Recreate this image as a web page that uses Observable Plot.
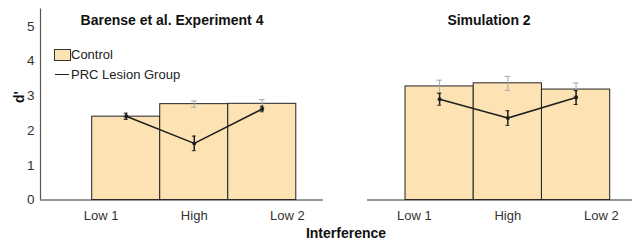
<!DOCTYPE html>
<html>
<head>
<meta charset="utf-8">
<script src="https://cdn.jsdelivr.net/npm/d3@7"></script>
<script src="https://cdn.jsdelivr.net/npm/@observablehq/plot@0.6"></script>
<style>
  html, body { margin: 0; padding: 0; background: #fff; }
  #wrap { position: relative; width: 632px; height: 241px; overflow: hidden; font-family: "Liberation Sans", Arial, sans-serif; color: #222; }
  #wrap svg { position: absolute; top: 0; }
  .ttl { position: absolute; font-weight: bold; font-size: 14px; transform: translate(-50%, -50%); white-space: nowrap; color: #111; }
  .ylab { position: absolute; font-weight: bold; font-size: 14px; transform: translate(-50%, -50%) rotate(-90deg); white-space: nowrap; color: #111; }
  .leg { position: absolute; font-size: 13px; white-space: nowrap; color: #222; }
</style>
</head>
<body>
<div id="wrap"></div>
<script>
// ---- data ----
const categories = ["Low 1", "High", "Low 2"];
const yTicks = [0, 1, 2, 3, 4, 5];

const barenseControl   = [2.40, 2.76, 2.77];
const barenseControlSE = [0.04, 0.09, 0.12];
const barensePRC       = [2.41, 1.63, 2.62];
const barensePRCSE     = [0.09, 0.21, 0.08];

const simControl   = [3.27, 3.36, 3.18];
const simControlSE = [0.18, 0.20, 0.19];
const simPRC       = [2.90, 2.36, 2.95];
const simPRCSE     = [0.17, 0.21, 0.20];

const panelTitles = ["Barense et al. Experiment 4", "Simulation 2"];
const legendLabels = ["Control", "PRC Lesion Group"];
const yLabel = "d'";
const xLabel = "Interference";

// ---- styling ----
const barFill = "#fde3b4";
const barStroke = "#222";
const ctrlErrColor = "#a8a8a8";
const prcColor = "#1e1e1e";
const font = "'Liberation Sans', Arial, sans-serif";
const capHalf = 0.04;
const labelSpread = 1.37;

function rowsFor(control, controlSE, prc, prcSE) {
  return categories.map((c, i) => ({
    cat: c, i,
    control: control[i], controlSE: controlSE[i],
    prc: prc[i], prcSE: prcSE[i]
  }));
}

function panel({rows, width, marginLeft, marginRight, xDomain, showY}) {
  const labelPos = categories.map((c, i) => 1 + (i - 1) * labelSpread);
  const marks = [
    Plot.rectY(rows, {x1: d => d.i - 0.5, x2: d => d.i + 0.5, y1: 0, y2: "control", fill: barFill, stroke: barStroke, strokeWidth: 1}),
    // control error bars (gray)
    Plot.ruleX(rows, {x: "i", y1: d => d.control - d.controlSE, y2: d => d.control + d.controlSE, stroke: ctrlErrColor, strokeWidth: 1}),
    Plot.ruleY(rows, {y: d => d.control + d.controlSE, x1: d => d.i - capHalf, x2: d => d.i + capHalf, stroke: ctrlErrColor, strokeWidth: 1}),
    Plot.ruleY(rows, {y: d => d.control - d.controlSE, x1: d => d.i - capHalf, x2: d => d.i + capHalf, stroke: ctrlErrColor, strokeWidth: 1}),
    // PRC line + error bars
    Plot.line(rows, {x: "i", y: "prc", stroke: prcColor, strokeWidth: 1.5}),
    Plot.ruleX(rows, {x: "i", y1: d => d.prc - d.prcSE, y2: d => d.prc + d.prcSE, stroke: prcColor, strokeWidth: 1.5}),
    Plot.ruleY(rows, {y: d => d.prc + d.prcSE, x1: d => d.i - capHalf * 0.7, x2: d => d.i + capHalf * 0.7, stroke: prcColor, strokeWidth: 1}),
    Plot.ruleY(rows, {y: d => d.prc - d.prcSE, x1: d => d.i - capHalf * 0.7, x2: d => d.i + capHalf * 0.7, stroke: prcColor, strokeWidth: 1}),
    Plot.dot(rows, {x: "i", y: "prc", r: 2, fill: prcColor}),
    // baseline
    Plot.ruleY([0], {stroke: "#333", strokeWidth: 1.2}),
    Plot.axisX({ticks: labelPos, tickFormat: d => categories[labelPos.indexOf(d)], tickSize: 0, tickPadding: 11, label: null, fontSize: 13, fill: "#333"})
  ];
  if (showY) {
    marks.push(Plot.ruleX([xDomain[0]], {stroke: "#555", strokeWidth: 1.2}));
    marks.push(Plot.axisY({ticks: yTicks, tickFormat: d3.format("d"), tickSize: 0, tickPadding: 6, label: null, fontSize: 13.5, fill: "#333"}));
  }
  return Plot.plot({
    width, height: 241,
    marginLeft, marginRight, marginTop: 8.5, marginBottom: 41.5,
    x: {domain: xDomain, axis: null},
    y: {domain: [0, 5.5], axis: null},
    style: {background: "transparent", fontFamily: font, fontSize: "13px", overflow: "visible"},
    marks
  });
}

const wrap = document.getElementById("wrap");

const left = panel({
  rows: rowsFor(barenseControl, barenseControlSE, barensePRC, barensePRCSE),
  width: 325, marginLeft: 40, marginRight: 2,
  xDomain: [-1.26, 2.9], showY: true
});
left.style.left = "0px";
wrap.appendChild(left);

const right = panel({
  rows: rowsFor(simControl, simControlSE, simPRC, simPRCSE),
  width: 307, marginLeft: 42, marginRight: 0,
  xDomain: [-1.057, 2.827], showY: false
});
right.style.left = "325px";
wrap.appendChild(right);

// titles
[[panelTitles[0], 172, 20], [panelTitles[1], 489, 20], [xLabel, 346, 233]].forEach(([t, x, y]) => {
  const d = document.createElement("div");
  d.className = "ttl";
  d.textContent = t;
  d.style.left = x + "px";
  d.style.top = y + "px";
  wrap.appendChild(d);
});
const yl = document.createElement("div");
yl.className = "ylab"; yl.textContent = yLabel;
Object.assign(yl.style, {left: "19px", top: "97px"});
wrap.appendChild(yl);

// legend
const sw = document.createElement("div");
Object.assign(sw.style, {position: "absolute", left: "54px", top: "49px", width: "15px", height: "10px", background: barFill, border: "1px solid #333"});
wrap.appendChild(sw);
const l1 = document.createElement("div");
l1.className = "leg"; l1.textContent = legendLabels[0];
Object.assign(l1.style, {left: "71px", top: "47px"});
wrap.appendChild(l1);
const ln = document.createElement("div");
Object.assign(ln.style, {position: "absolute", left: "55px", top: "74px", width: "14px", height: "0", borderTop: "1.5px solid #222"});
wrap.appendChild(ln);
const l2 = document.createElement("div");
l2.className = "leg"; l2.textContent = legendLabels[1];
Object.assign(l2.style, {left: "71px", top: "67px"});
wrap.appendChild(l2);
</script>
</body>
</html>
